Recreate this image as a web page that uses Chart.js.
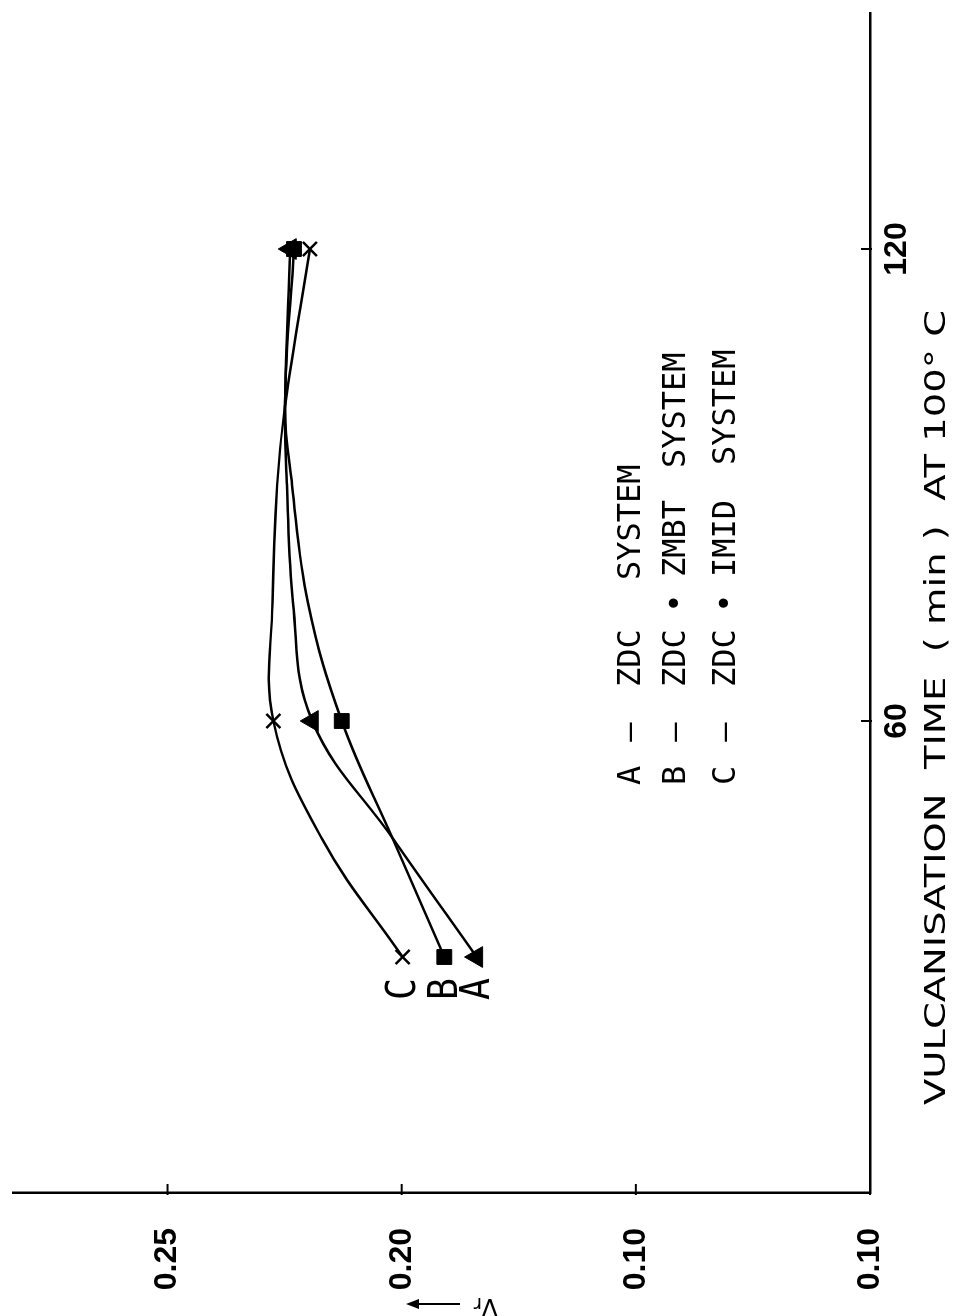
<!DOCTYPE html>
<html>
<head>
<meta charset="utf-8">
<script src="https://cdn.jsdelivr.net/npm/chart.js@4.4.1/dist/chart.umd.min.js"></script>
<style>
html, body { margin: 0; padding: 0; background: #fff; }
#page { position: relative; width: 958px; height: 1316px; overflow: hidden; background: #fff; }
#wrap { position: absolute; left: 0; top: 0; width: 1316px; height: 958px; transform-origin: 0 0; transform: translate(0, 1316px) rotate(-90deg); }
</style>
</head>
<body>
<div id="page"><div id="wrap"><canvas id="chart_vr" width="1316" height="958"></canvas></div></div>
<script>
// vulcanisation time (min) and Vr
var seriesNames = ['A', 'B', 'C']
var seriesDescriptions = ['ZDC SYSTEM', 'ZDC • ZMBT SYSTEM', 'ZDC • IMID SYSTEM']
var times = [30, 45, 60, 75, 90, 100, 120]
var markerTimes = [30, 60, 120]
var vrA = [0.1840, 0.2018, 0.2191, 0.2232, 0.2245, 0.2249, 0.2238]
var vrB = [0.1909, 0.2019, 0.2128, 0.2200, 0.2234, 0.2249, 0.2230]
var vrC = [0.1998, 0.2170, 0.2274, 0.2276, 0.2266, 0.2249, 0.2196]
var xTickValues = [60, 120]
var yTickValues = [0.10, 0.15, 0.20, 0.25]
var yTickLabels = ['0.10', '0.10', '0.20', '0.25']
var xTitle = 'VULCANISATION  TIME  ( min )  AT 100° C'
var yTitle = 'Vr'

var ink = '#000'
var tickFont = { family: "'Liberation Sans', 'DejaVu Sans'", size: 32, weight: 'bold' }

function points(vals) {
    return times.map(function (t, i) { return { x: t, y: vals[i] } })
}

function markerSize(r) {
    return function (c) { return markerTimes.indexOf(c.raw.x) >= 0 ? r : 0 }
}

function fitText(c, text, x, y, width) {
    var w = c.measureText(text).width
    c.save()
    c.translate(x, y)
    c.scale(width / w, 1)
    c.fillText(text, 0, 0)
    c.restore()
}

var annotate = {
    id: 'annotate',
    afterDatasetsDraw: function (chart) {
        var c = chart.ctx
        var xs = chart.scales.x, ys = chart.scales.y
        var area = chart.chartArea
        c.save()
        c.fillStyle = ink
        c.strokeStyle = ink

        // short ticks pointing into the plot
        c.lineWidth = 2
        xTickValues.forEach(function (t) {
            var px = xs.getPixelForValue(t)
            c.beginPath(); c.moveTo(px, area.bottom + 2); c.lineTo(px, area.bottom - 9); c.stroke()
        })
        yTickValues.forEach(function (v) {
            var py = ys.getPixelForValue(v)
            c.beginPath(); c.moveTo(area.left - 2, py); c.lineTo(area.left + 9, py); c.stroke()
        })

        // curve letters beside the first points
        var firsts = [vrA[0], vrB[0], vrC[0]]
        c.font = '40px DejaVu Sans Mono'
        c.textAlign = 'center'
        c.textBaseline = 'middle'
        seriesNames.forEach(function (n, i) {
            c.fillText(n, xs.getPixelForValue(times[0]) - 32, ys.getPixelForValue(firsts[i]) + 2, 22)
        })

        // key
        var rowV = [632, 677, 727]
        var wordU = [[629, 736], [629, 713, 739, 848], [629, 713, 739, 851]]
        c.font = '32px DejaVu Sans Mono'
        seriesNames.forEach(function (n, i) {
            c.textAlign = 'left'
            c.fillText(n, 531, rowV[i])
            c.textAlign = 'center'
            c.fillText('–', 584, rowV[i])
            seriesDescriptions[i].split(' ').forEach(function (w, j) {
                c.textAlign = w === '•' ? 'center' : 'left'
                c.fillText(w, wordU[i][j], rowV[i])
            })
        })

        // axis titles
        c.font = '29px DejaVu Sans'
        c.textAlign = 'left'
        fitText(c, xTitle, 211, 937, 795)

        c.save()
        c.translate(11, 498)
        c.rotate(-Math.PI / 2)
        c.textAlign = 'left'
        c.font = '24px DejaVu Sans'
        c.fillText(yTitle.charAt(0), 0, 0)
        c.font = '20px DejaVu Sans'
        c.fillText(yTitle.charAt(1), 16, 2)
        c.lineWidth = 2
        c.beginPath(); c.moveTo(38, 1); c.lineTo(84, 1); c.stroke()
        c.beginPath(); c.moveTo(92, 1); c.lineTo(79, -4); c.lineTo(79, 6); c.closePath(); c.fill()
        c.restore()

        c.restore()
    }
}

function series(name, vals, style, radius, bw) {
    return {
        label: name,
        data: points(vals),
        borderColor: ink,
        borderWidth: 2.5,
        tension: 0.4,
        pointStyle: style,
        pointRadius: markerSize(radius),
        pointBackgroundColor: ink,
        pointBorderColor: ink,
        pointBorderWidth: bw
    }
}

var ctx = document.getElementById('chart_vr')

var chart_vr = new Chart(ctx, {
    type: 'line',
    data: {
        datasets: [
            series('A', vrA, 'triangle', 12, 1),
            series('B', vrB, 'rect', 10.5, 1),
            series('C', vrC, 'crossRot', 10, 2.5)
        ]
    },
    options: {
        responsive: false,
        animation: false,
        devicePixelRatio: 1,
        layout: { padding: { top: 10, right: 10, left: 0, bottom: 0 } },
        plugins: { legend: { display: false }, tooltip: { enabled: false } },
        scales: {
            x: {
                type: 'linear',
                min: 0,
                max: 150,
                grid: { display: false, drawTicks: false },
                border: { display: true, color: ink, width: 2.5 },
                ticks: { color: ink, font: tickFont, padding: 8 },
                afterBuildTicks: function (s) { s.ticks = xTickValues.map(function (v) { return { value: v } }) },
                afterFit: function (s) { s.height = 88; s.paddingLeft = 0; s.paddingRight = 0 }
            },
            y: {
                type: 'linear',
                min: 0.10,
                max: 0.283,
                grid: { display: false, drawTicks: false },
                border: { display: true, color: ink, width: 2.5 },
                ticks: {
                    color: ink,
                    font: tickFont,
                    padding: 35,
                    callback: function (v) {
                        var i = yTickValues.findIndex(function (t) { return Math.abs(t - v) < 1e-6 })
                        return i >= 0 ? yTickLabels[i] : ''
                    }
                },
                afterBuildTicks: function (s) { s.ticks = yTickValues.map(function (v) { return { value: v } }) },
                afterFit: function (s) { s.width = 123; s.paddingTop = 0; s.paddingBottom = 0 }
            }
        }
    },
    plugins: [annotate]
})
</script>
</body>
</html>
